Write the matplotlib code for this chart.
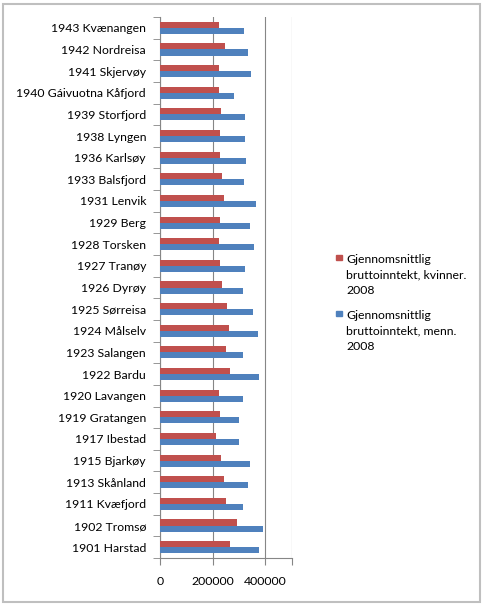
import matplotlib.pyplot as plt
import numpy as np
from matplotlib.patches import Rectangle

# municipalities, bottom to top as drawn
kommuner = ["1901 Harstad", "1902 Tromsø", "1911 Kvæfjord", "1913 Skånland",
            "1915 Bjarkøy", "1917 Ibestad", "1919 Gratangen", "1920 Lavangen",
            "1922 Bardu", "1923 Salangen", "1924 Målselv", "1925 Sørreisa",
            "1926 Dyrøy", "1927 Tranøy", "1928 Torsken", "1929 Berg",
            "1931 Lenvik", "1933 Balsfjord", "1936 Karlsøy", "1938 Lyngen",
            "1939 Storfjord", "1940 Gáivuotna Kåfjord", "1941 Skjervøy",
            "1942 Nordreisa", "1943 Kvænangen"]

# average gross income 2008
kvinner = [266000, 292000, 250000, 243000, 231000, 213000, 228000, 224000,
           266000, 250000, 262000, 254000, 235000, 228000, 224000, 228000,
           243000, 235000, 228000, 228000, 231000, 224000, 224000, 247000, 224000]
menn = [376000, 391000, 315000, 334000, 341000, 300000, 300000, 315000,
        376000, 315000, 372000, 353000, 315000, 323000, 357000, 341000,
        364000, 319000, 326000, 323000, 323000, 281000, 345000, 334000, 319000]

serier = [["Gjennomsnittlig", "bruttoinntekt, kvinner.", "2008"],
          ["Gjennomsnittlig", "bruttoinntekt, menn.", "2008"]]
farger = ["#C0504D", "#4F81BD"]

plt.rcParams['font.family'] = ['Lato', 'DejaVu Sans']

W, H = 484, 605
fig = plt.figure(figsize=(W / 100, H / 100), dpi=100)
ax = fig.add_axes([160 / W, 1 - 558 / H, 131.7 / W, 541 / H])

y = np.arange(len(kommuner))
h = 0.28
ax.barh(y + h / 2, kvinner, height=h, color=farger[0], zorder=3)
ax.barh(y - h / 2, menn, height=h, color=farger[1], zorder=3)

ax.set_xlim(0, 500000)
ax.set_ylim(-0.5, len(kommuner) - 0.5)
ax.set_xticks([0, 200000, 400000, 500000])
ax.set_xticklabels(["0", "200000", "400000", ""])
ax.set_yticks(y)
ax.set_yticklabels(kommuner)
ax.set_yticks(np.arange(-0.5, len(kommuner)), minor=True)
ax.tick_params(axis="y", which="major", length=0, pad=10, labelsize=8.8)
ax.tick_params(axis="y", which="minor", length=5, color="#868686")
ax.tick_params(axis="x", length=5, color="#868686", pad=8, labelsize=8.8)
ax.grid(axis="x", color="#868686", linewidth=0.8, zorder=0)

for side in ["top", "right"]:
    ax.spines[side].set_visible(False)
for side in ["left", "bottom"]:
    ax.spines[side].set_color("#868686")

# legend drawn by hand: square marker + three text lines per series
for i, (linjer, farge) in enumerate(zip(serier, farger)):
    base = 263 + i * 56
    fig.patches.append(Rectangle((336 / W, 1 - (base - 3) / H), 5.5 / W, 5.5 / H,
                                 transform=fig.transFigure, color=farge))
    for j, tekst in enumerate(linjer):
        fig.text(346 / W, 1 - (base + j * 15.5) / H, tekst, fontsize=8.8,
                 va="baseline", ha="left")

fig.patches.append(Rectangle((3 / W, 3 / H), 477 / W, 598 / H,
                             transform=fig.transFigure, fill=False,
                             edgecolor="#BFBFBF", linewidth=1.5))

fig.savefig("out.png", dpi=100)
